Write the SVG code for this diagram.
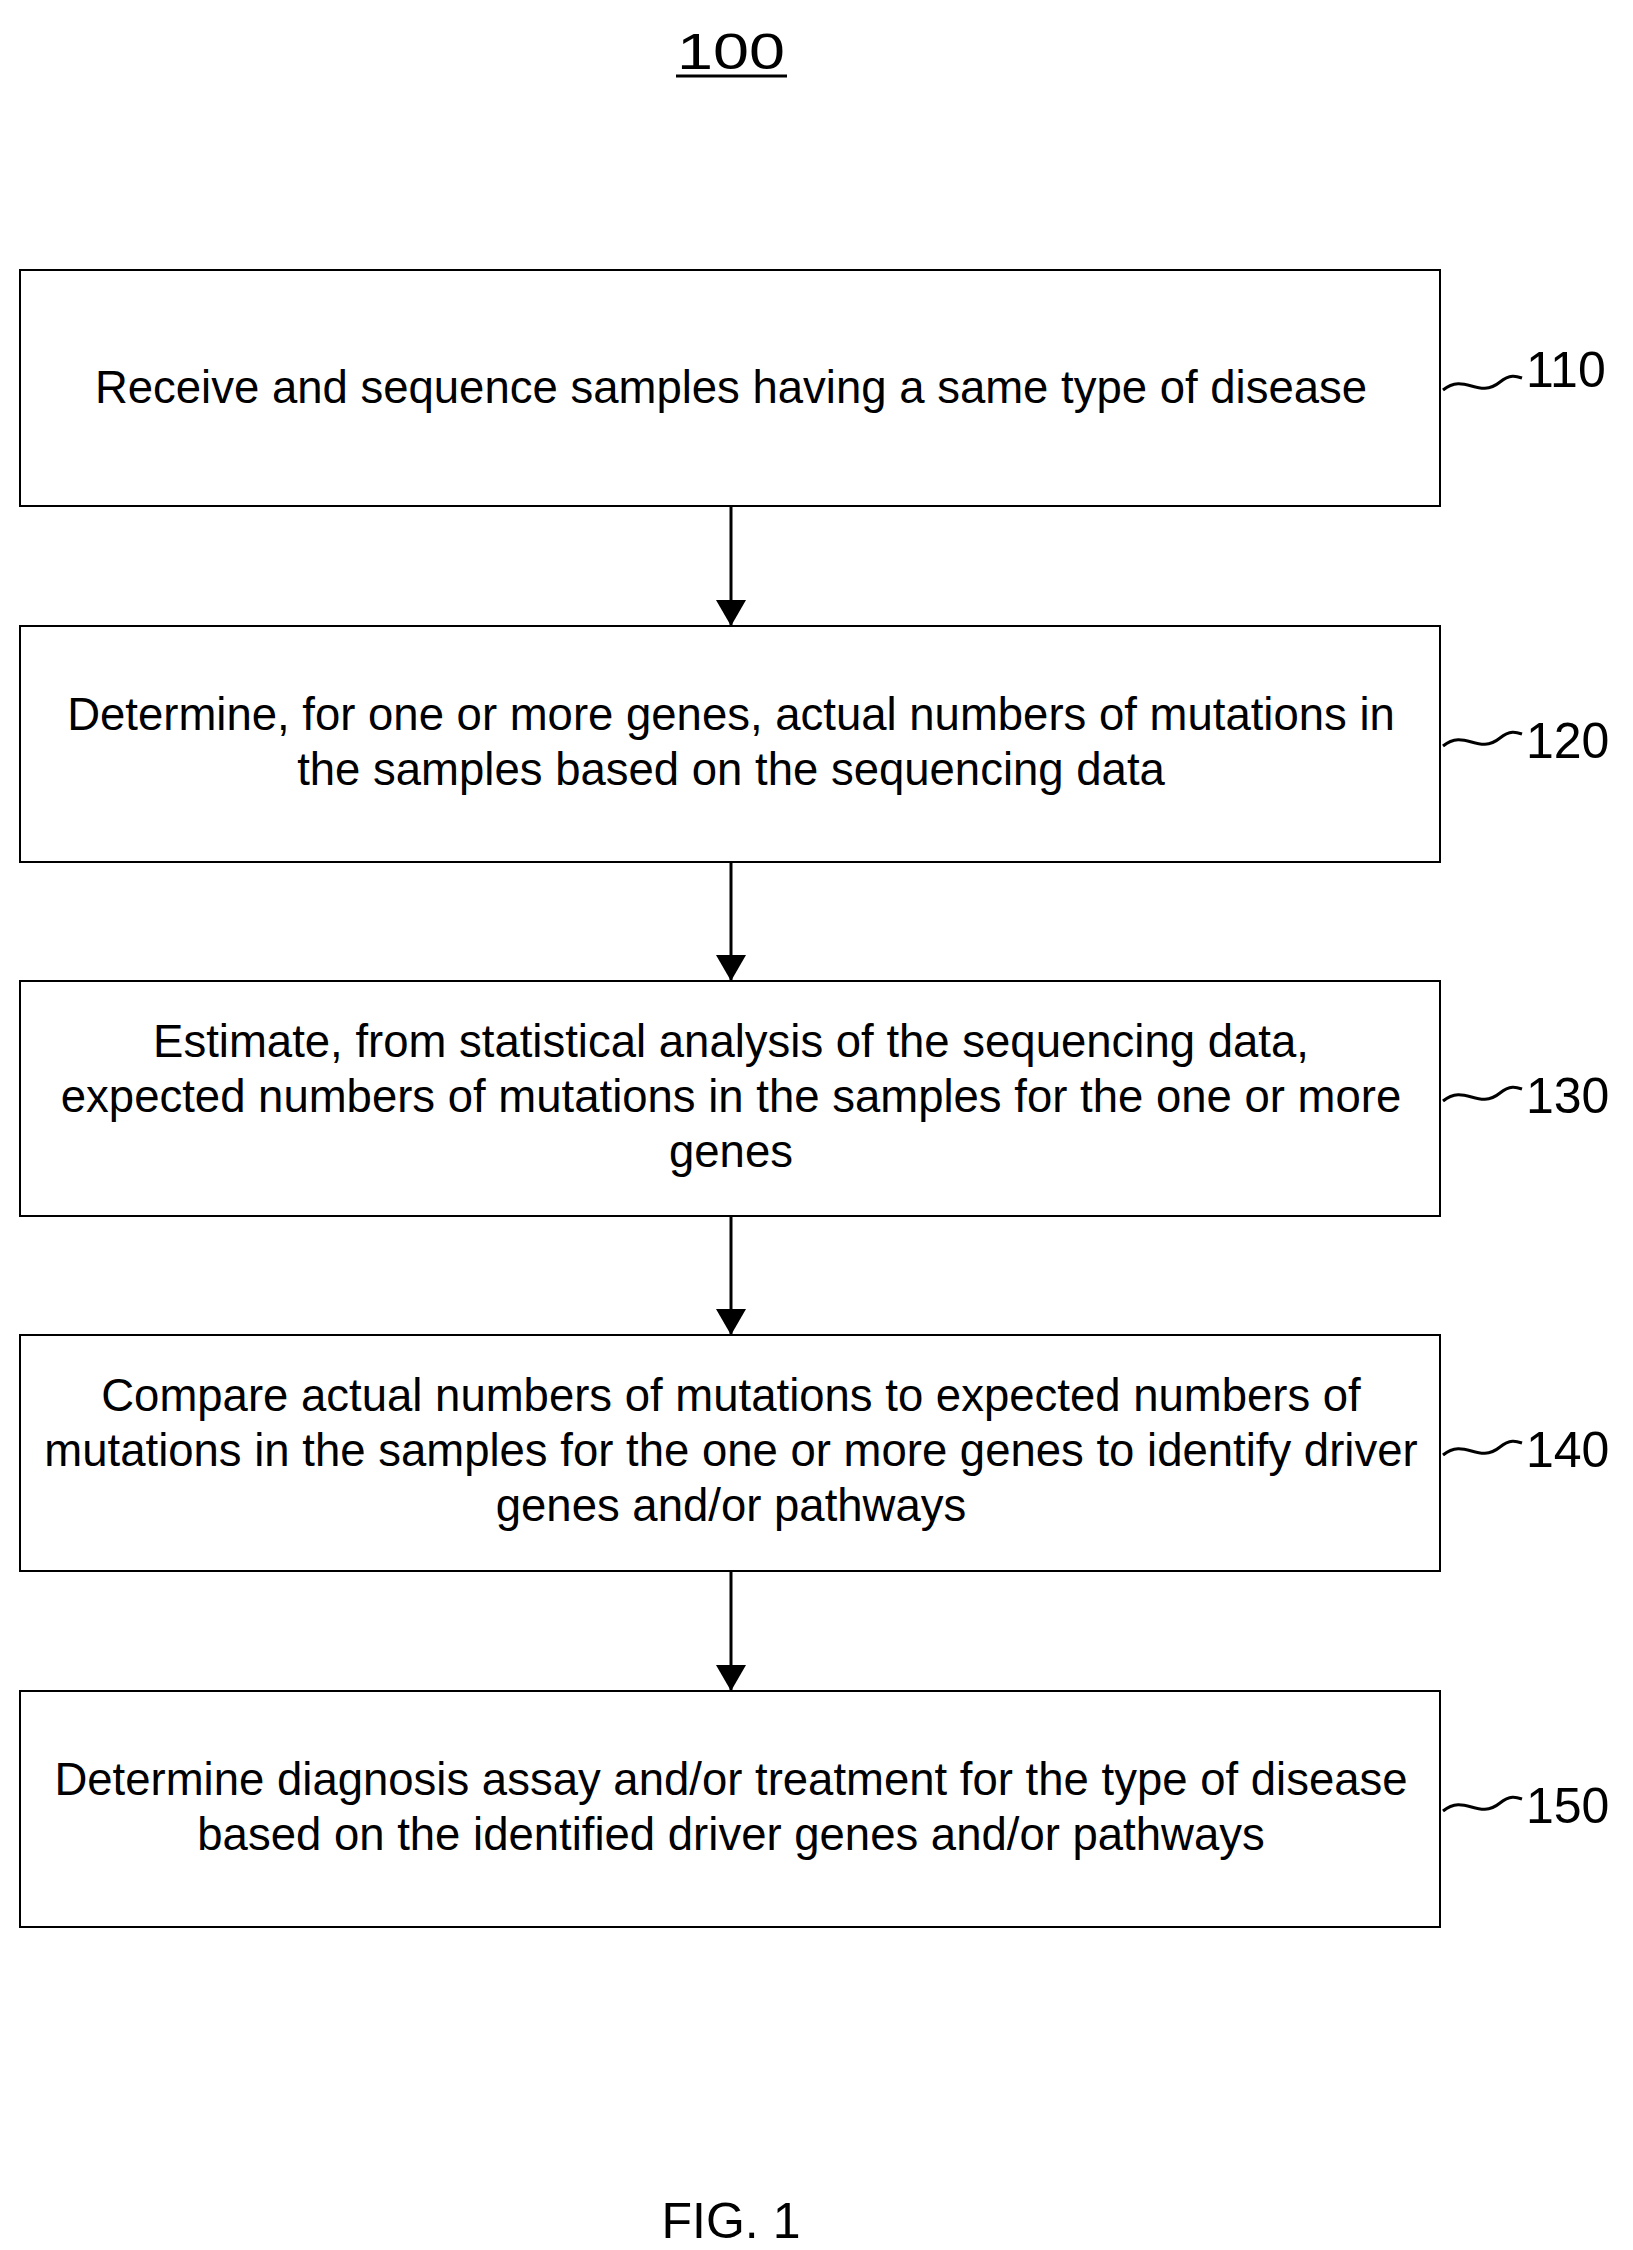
<svg xmlns="http://www.w3.org/2000/svg" width="1633" height="2250" viewBox="0 0 1633 2250">
<style>
.box{fill:#fff;stroke:#000;stroke-width:2}
.t{font-family:"Liberation Sans",Arial,sans-serif;font-size:45.5px;text-anchor:middle;fill:#000}
.l{font-family:"Liberation Sans",Arial,sans-serif;font-size:50px;fill:#000}
.c{stroke:#000;stroke-width:3;fill:none}
.sq{stroke:#000;stroke-width:3;fill:none}
</style>
<defs>
<marker id="a" viewBox="0 0 26 30" refX="26" refY="15" markerWidth="26" markerHeight="30" orient="auto" markerUnits="userSpaceOnUse"><path d="M0,0 L26,15 L0,30 z" fill="#000"/></marker></defs>
<text class="l" x="731" y="69" text-anchor="middle" font-size="66" textLength="108" lengthAdjust="spacingAndGlyphs">100</text>
<line x1="676" y1="76" x2="787" y2="76" stroke="#000" stroke-width="3"/>
<g id="n110"><rect class="box" x="20" y="270" width="1420" height="236"/><text class="t" x="731" y="403">Receive and sequence samples having a same type of disease</text>
<path class="sq" d="M1443,390 C1465,372 1478,400 1500,382 C1510,374 1516,376 1522,378"/><text class="l" x="1526" y="387">110</text></g>
<g id="n120"><rect class="box" x="20" y="626" width="1420" height="236"/><text class="t" x="731" y="730">Determine, for one or more genes, actual numbers of mutations in</text><text class="t" x="731" y="785">the samples based on the sequencing data</text>
<path class="sq" d="M1443,746 C1465,728 1478,756 1500,738 C1510,730 1516,732 1522,734"/><text class="l" x="1526" y="758">120</text></g>
<g id="n130"><rect class="box" x="20" y="981" width="1420" height="235"/><text class="t" x="731" y="1057">Estimate, from statistical analysis of the sequencing data,</text><text class="t" x="731" y="1112">expected numbers of mutations in the samples for the one or more</text><text class="t" x="731" y="1167">genes</text>
<path class="sq" d="M1443,1101 C1465,1083 1478,1111 1500,1093 C1510,1085 1516,1087 1522,1089"/><text class="l" x="1526" y="1113">130</text></g>
<g id="n140"><rect class="box" x="20" y="1335" width="1420" height="236"/><text class="t" x="731" y="1411">Compare actual numbers of mutations to expected numbers of</text><text class="t" x="731" y="1466">mutations in the samples for the one or more genes to identify driver</text><text class="t" x="731" y="1521">genes and/or pathways</text>
<path class="sq" d="M1443,1455 C1465,1437 1478,1465 1500,1447 C1510,1439 1516,1441 1522,1443"/><text class="l" x="1526" y="1467">140</text></g>
<g id="n150"><rect class="box" x="20" y="1691" width="1420" height="236"/><text class="t" x="731" y="1795">Determine diagnosis assay and/or treatment for the type of disease</text><text class="t" x="731" y="1850">based on the identified driver genes and/or pathways</text>
<path class="sq" d="M1443,1811 C1465,1793 1478,1821 1500,1803 C1510,1795 1516,1797 1522,1799"/><text class="l" x="1526" y="1823">150</text></g>
<g id="connectors">
<line class="c" x1="731" y1="506" x2="731" y2="626" marker-end="url(#a)"/>
<line class="c" x1="731" y1="862" x2="731" y2="981" marker-end="url(#a)"/>
<line class="c" x1="731" y1="1216" x2="731" y2="1335" marker-end="url(#a)"/>
<line class="c" x1="731" y1="1571" x2="731" y2="1691" marker-end="url(#a)"/>
</g>
<text class="l" x="731" y="2238" text-anchor="middle" font-size="78">FIG. 1</text>
</svg>
